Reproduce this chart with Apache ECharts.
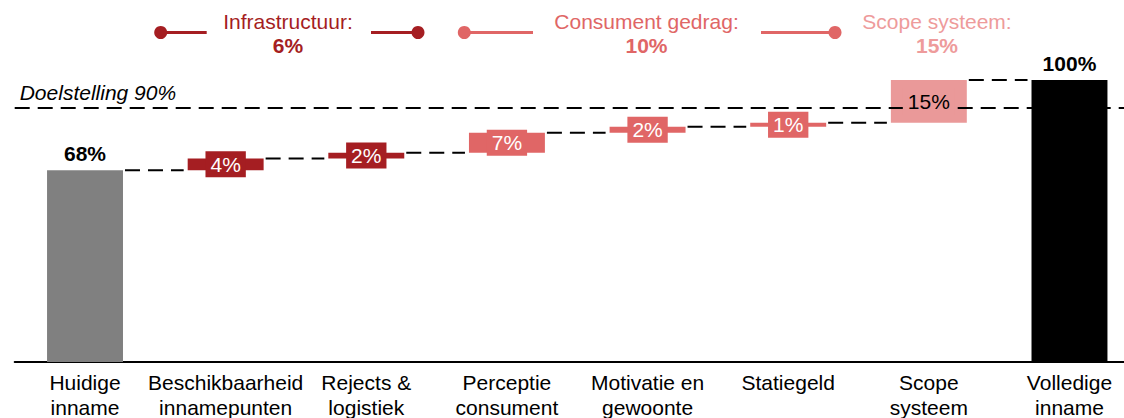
<!DOCTYPE html>
<html>
<head>
<meta charset="utf-8">
<script src="https://cdn.jsdelivr.net/npm/echarts@6/dist/echarts.min.js"></script>
<style>
  html, body { margin: 0; padding: 0; background: #fff; }
  #chart { width: 1124px; height: 418px; }
</style>
</head>
<body>
<div id="chart"></div>
<script>
// waterfall data
const categories = ['Huidige\ninname', 'Beschikbaarheid\ninnamepunten', 'Rejects &\nlogistiek', 'Perceptie\nconsument',
  'Motivatie en\ngewoonte', 'Statiegeld', 'Scope\nsysteem', 'Volledige\ninname'];
const startValue = 68;
const steps = [4.2, 2.0, 7.1, 2.1, 1.4, 15.2];
const endValue = 100;
const groups = ['start', 'infra', 'infra', 'cons', 'cons', 'cons', 'scope', 'end'];
const target = 90;
const legendNames = ['Infrastructuur:', 'Consument gedrag:', 'Scope systeem:'];
const legendGroups = ['infra', 'cons', 'scope'];
const legendTotals = [6, 10, 15];

const colors = { start: '#808080', infra: '#A51E22', cons: '#E06666', scope: '#EA9999', end: '#000000' };
const legendText = { infra: '#A51E22', cons: '#E06666', scope: '#EE9B9B' };
const font = 'Liberation Sans, Arial, sans-serif';

// bases + heights
const bases = [0];
const values = [startValue];
let run = startValue;
steps.forEach(s => { bases.push(run); values.push(s); run += s; });
bases.push(0);
values.push(endValue);
const levels = [];
for (let i = 0; i < categories.length - 1; i++) {
  levels.push([i, Math.round((bases[i] + values[i]) * 10) / 10]);
}

const barW = 0.54;

const valueData = values.map((v, i) => ({ value: v, itemStyle: { color: colors[groups[i]] } }));
const labelData = values.map((v, i) => {
  const g = groups[i];
  if (g === 'start' || g === 'end') {
    return { value: v, label: { show: true, position: 'top', distance: 5, color: '#000', fontWeight: 'bold',
      fontSize: 21, lineHeight: 24, fontFamily: font, formatter: Math.round(v) + '%' } };
  }
  return { value: v, label: { show: true, position: 'inside', color: g === 'scope' ? '#000' : '#fff',
    backgroundColor: colors[g], padding: [1, 5], fontSize: 21, lineHeight: 24, fontFamily: font,
    formatter: Math.round(v) + '%' } };
});

// legend drawn by hand (two-line text, icons on both sides)
const legendPos = [
  { cx: 288, left: [160.7, 206.7], right: [371, 418] },
  { cx: 646.5, left: [464.3, 533], right: [761, 835] },
  { cx: 937 }
];
const graphics = [];
legendNames.forEach((name, k) => {
  const c = colors[legendGroups[k]];
  const p = legendPos[k];
  if (p.left) {
    graphics.push({ type: 'line', shape: { x1: p.left[0], y1: 32.5, x2: p.left[1], y2: 32.5 }, style: { stroke: c, lineWidth: 3 } });
    graphics.push({ type: 'circle', shape: { cx: p.left[0], cy: 32.5, r: 6.5 }, style: { fill: c } });
  }
  if (p.right) {
    graphics.push({ type: 'line', shape: { x1: p.right[0], y1: 32.5, x2: p.right[1], y2: 32.5 }, style: { stroke: c, lineWidth: 3 } });
    graphics.push({ type: 'circle', shape: { cx: p.right[1], cy: 32.5, r: 6.5 }, style: { fill: c } });
  }
  graphics.push({ type: 'text', x: p.cx, y: 21, style: { text: name, fill: legendText[legendGroups[k]], font: '21px ' + font,
    textAlign: 'center', textVerticalAlign: 'middle' } });
  graphics.push({ type: 'text', x: p.cx, y: 45, style: { text: legendTotals[k] + '%', fill: legendText[legendGroups[k]],
    font: 'bold 21px ' + font, textAlign: 'center', textVerticalAlign: 'middle' } });
});

const chart = echarts.init(document.getElementById('chart'), null, { renderer: 'svg' });
chart.setOption({
  animation: false,
  grid: { left: 14.7, right: -15.8, top: 80, bottom: 56, containLabel: false, outerBoundsMode: 'none' },
  xAxis: {
    type: 'category',
    data: categories,
    axisTick: { show: false },
    axisLine: { lineStyle: { color: '#000', width: 2 } },
    axisLabel: { interval: 0, color: '#000', fontSize: 21, lineHeight: 25, margin: 8, fontFamily: font }
  },
  yAxis: { type: 'value', min: 0, max: 100, show: false, splitLine: { show: false } },
  graphic: graphics,
  series: [
    { name: 'base', type: 'bar', stack: 'wf', silent: true, barWidth: barW * 100 + '%', barGap: '-100%',
      itemStyle: { color: 'transparent' }, data: bases, z: 2 },
    { name: 'value', type: 'bar', stack: 'wf', barWidth: barW * 100 + '%', barGap: '-100%', data: valueData, z: 2 },
    { name: 'labelBase', type: 'bar', stack: 'lb', silent: true, barWidth: barW * 100 + '%', barGap: '-100%',
      itemStyle: { color: 'transparent' }, data: bases, z: 6 },
    { name: 'labels', type: 'bar', stack: 'lb', silent: true, barWidth: barW * 100 + '%', barGap: '-100%',
      itemStyle: { color: 'transparent' }, data: labelData, z: 6 },
    {
      name: 'connectors', type: 'custom', z: 3, silent: true,
      data: levels,
      renderItem: function (params, api) {
        const i = api.value(0);
        const lvl = api.value(1);
        const a = api.coord([i, lvl]);
        const b = api.coord([i + 1, lvl]);
        const half = api.size([1, 0])[0] * barW / 2;
        return {
          type: 'line',
          shape: { x1: a[0] + half + 2, y1: a[1], x2: b[0] - half - 4, y2: a[1] },
          style: { stroke: '#000', lineWidth: 2, lineDash: [15, 8] }
        };
      },
      markLine: {
        z: 4, silent: true, symbol: 'none',
        lineStyle: { color: '#000', width: 2, type: [15, 8] },
        label: { show: true, position: 'insideStartTop', distance: [5, 5], formatter: 'Doelstelling {c}%',
          color: '#000', fontStyle: 'italic', fontSize: 21, fontFamily: font },
        data: [{ yAxis: target }]
      }
    }
  ]
});
</script>
</body>
</html>
